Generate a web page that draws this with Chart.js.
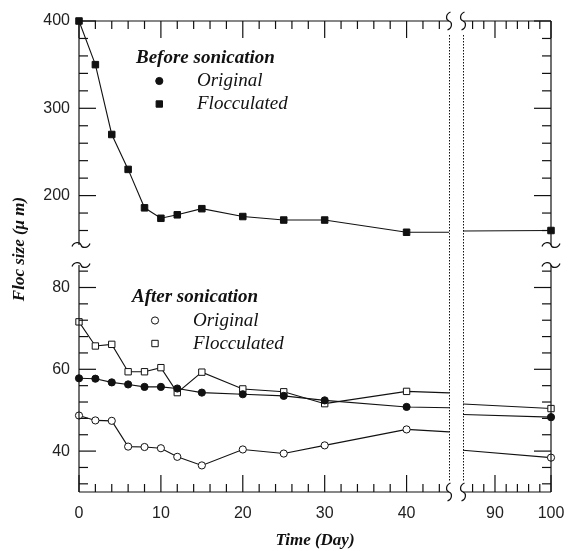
<!DOCTYPE html>
<html><head><meta charset="utf-8">
<script src="https://cdn.jsdelivr.net/npm/chart.js@4.4.1/dist/chart.umd.min.js"></script>
<style>html,body{margin:0;padding:0;background:#fff;}</style>
</head><body>
<canvas id="c" width="568" height="551" style="display:block;width:568px;height:551px"></canvas>
<script>
// ---- data ----
const days = [0, 2, 4, 6, 8, 10, 12, 15, 20, 25, 30, 40, 100];
const beforeOriginal    = [57.8, 57.7, 56.8, 56.3, 55.7, 55.7, 55.3, 54.3, 53.9, 53.5, 52.4, 50.8, 48.3];
const beforeFlocculated = [400, 350, 270, 230, 186, 174, 178, 185, 176, 172, 172, 158, 160];
const afterOriginal     = [48.7, 47.5, 47.4, 41.1, 41.0, 40.7, 38.6, 36.5, 40.4, 39.4, 41.4, 45.3, 38.4];
const afterFlocculated  = [71.6, 65.7, 66.1, 59.4, 59.4, 60.4, 54.3, 59.3, 55.2, 54.5, 51.6, 54.6, 50.4];

// tick labels
const xTicksLeft  = [0, 10, 20, 30, 40];
const xTicksRight = [90, 100];
const yTicksUpper = [200, 300, 400];
const yTicksLower = [40, 60, 80];
// minor tick steps
const xMinorStep = 2, yUpperMinorStep = 20, yLowerMinorStep = 4;

const INK = '#111';
const tickFont = {family: '"Liberation Sans", Arial, sans-serif', size: 16};

function pts(vals) { return days.map((d, i) => ({x: d, y: vals[i]})); }

const seriesDefs = [
  {vals: afterOriginal,     y: 'yLo', style: 'circle', fill: '#fff', r: 3.6},
  {vals: beforeOriginal,    y: 'yLo', style: 'circle', fill: INK,   r: 3.6},
  {vals: afterFlocculated,  y: 'yLo', style: 'rect',   fill: '#fff', r: 4.5},
  {vals: beforeFlocculated, y: 'yUp', style: 'rect',   fill: INK,   r: 4.6},
];
const datasets = [];
for (const s of seriesDefs) {
  for (const xa of ['xL', 'xR']) {
    datasets.push({
      data: pts(s.vals), xAxisID: xa, yAxisID: s.y, clip: false,
      borderColor: INK, borderWidth: 1.1, tension: 0,
      pointStyle: s.style, pointRadius: s.r, pointHoverRadius: s.r,
      pointBackgroundColor: s.fill, pointBorderColor: INK, pointBorderWidth: 1
    });
  }
}

function zeroPad(s) { s.paddingLeft = 0; s.paddingRight = 0; s.paddingTop = 0; s.paddingBottom = 0; }

function tickCfg(arr, pad) {
  return {
    afterBuildTicks: sc => { sc.ticks = arr.map(v => ({value: v})); },
    grid: {display: false, drawTicks: false, tickLength: 0},
    border: {display: false},
    ticks: {font: tickFont, color: '#222', padding: pad, autoSkip: false, maxRotation: 0}
  };
}

const clipPlugin = {
  id: 'panelClip',
  beforeDatasetDraw(chart, args) {
    const m = args.meta, xs = m.xScale, ys = m.yScale, ctx = chart.ctx;
    let l = xs.left, r = xs.right;
    if (xs.id === 'xL') l -= 8; else r += 8;
    ctx.save();
    ctx.beginPath();
    ctx.rect(l, ys.top - 8, r - l, ys.bottom - ys.top + 16);
    ctx.clip();
  },
  afterDatasetDraw(chart) { chart.ctx.restore(); }
};

const framePlugin = {
  id: 'frame',
  afterDraw(chart) {
    const ctx = chart.ctx;
    const {xL, xR, yUp, yLo} = chart.scales;
    const top = yUp.top, bottom = yLo.bottom, left = xL.left, right = xR.right;
    const line = (a, b, c, d) => { ctx.beginPath(); ctx.moveTo(a, b); ctx.lineTo(c, d); ctx.stroke(); };
    ctx.save();
    ctx.strokeStyle = INK; ctx.lineWidth = 1.2; ctx.lineCap = 'butt';
    // axis lines
    line(left, top, left, yUp.bottom); line(left, yLo.top, left, bottom);
    line(right, top, right, yUp.bottom); line(right, yLo.top, right, bottom);
    line(left, bottom, xL.right, bottom); line(xR.left, bottom, right, bottom);
    line(left, top, xL.right, top); line(xR.left, top, right, top);
    // x ticks
    const xTick = (sc, from, to, majors) => {
      for (let v = from; v <= to + 1e-9; v += xMinorStep) {
        const len = majors.includes(v) ? 17 : 8;
        const p = sc.getPixelForValue(v);
        line(p, bottom, p, bottom - len);
        line(p, top, p, top + len);
      }
    };
    xTick(xL, 0, 44, xTicksLeft);
    xTick(xR, 86, 100, xTicksRight);
    const yTick = (sc, from, to, step, majors) => {
      for (let v = from; v <= to + 1e-9; v += step) {
        const len = majors.includes(v) ? 17 : 9;
        const p = sc.getPixelForValue(v);
        line(left, p, left + len, p);
        line(right, p, right - len, p);
      }
    };
    yTick(yUp, 160, 400, yUpperMinorStep, yTicksUpper);
    yTick(yLo, 32, 84, yLowerMinorStep, yTicksLower);
    // break squiggles
    const vS = (cx, cy) => {
      ctx.beginPath(); ctx.moveTo(cx + 1.5, cy - 9);
      ctx.bezierCurveTo(cx - 3.5, cy - 7, cx - 3.5, cy - 1, cx, cy);
      ctx.bezierCurveTo(cx + 3.5, cy + 1, cx + 3.5, cy + 7, cx - 1.5, cy + 9);
      ctx.stroke();
    };
    const hS = (cx, cy) => {
      ctx.beginPath(); ctx.moveTo(cx - 9, cy + 1.5);
      ctx.bezierCurveTo(cx - 7, cy - 3.5, cx - 1, cy - 3.5, cx, cy);
      ctx.bezierCurveTo(cx + 1, cy + 3.5, cx + 7, cy + 3.5, cx + 9, cy - 1.5);
      ctx.stroke();
    };
    vS(xL.right, top); vS(xL.right, bottom); vS(xR.left, top); vS(xR.left, bottom);
    hS(left + 2, yUp.bottom); hS(left + 2, yLo.top); hS(right, yUp.bottom); hS(right, yLo.top);
    // dotted break lines
    ctx.lineWidth = 1; ctx.setLineDash([1.5, 1.5]);
    line(xL.right + 0.5, top + 14, xL.right + 0.5, bottom - 10);
    line(xR.left + 0.5, top + 14, xR.left + 0.5, bottom - 10);
    ctx.setLineDash([]);

    // axis titles
    ctx.fillStyle = INK;
    ctx.textBaseline = 'middle'; ctx.textAlign = 'center';
    ctx.font = 'bold italic 17px "Liberation Serif", "Times New Roman", serif';
    ctx.fillText('Time (Day)', (left + right) / 2, 541);
    ctx.save();
    ctx.translate(20, 249); ctx.rotate(-Math.PI / 2);
    ctx.fillText('Floc size (\u03bc m)', 0, 0);
    ctx.restore();

    // legends
    const mark = (x, y, style, fill) => {
      ctx.beginPath();
      if (style === 'circle') ctx.arc(x, y, 3.6, 0, Math.PI * 2);
      else ctx.rect(x - 3.2, y - 3.2, 6.4, 6.4);
      ctx.fillStyle = fill; ctx.fill();
      ctx.lineWidth = 1; ctx.strokeStyle = INK; ctx.stroke();
    };
    ctx.textAlign = 'left';
    ctx.fillStyle = INK;
    ctx.font = 'bold italic 19px "Liberation Serif", "Times New Roman", serif';
    ctx.fillText('Before sonication', 136, 58);
    ctx.fillText('After sonication', 132, 297.5);
    ctx.font = 'italic 19px "Liberation Serif", "Times New Roman", serif';
    ctx.fillStyle = INK;
    ctx.fillText('Original', 197, 81);
    ctx.fillText('Flocculated', 197, 104);
    ctx.fillText('Original', 193, 320.5);
    ctx.fillText('Flocculated', 193, 343.5);
    mark(159.3, 81, 'circle', INK);
    mark(159.3, 104, 'rect', INK);
    mark(155, 320.5, 'circle', '#fff');
    mark(155, 343.5, 'rect', '#fff');
    ctx.restore();
  }
};

new Chart(document.getElementById('c'), {
  type: 'line',
  data: {datasets},
  options: {
    responsive: false, animation: false, devicePixelRatio: 1,
    layout: {padding: {top: 21, right: 17, left: 0, bottom: 0}},
    plugins: {legend: {display: false}, tooltip: {enabled: false}},
    scales: {
      xL: Object.assign({type: 'linear', position: 'bottom', stack: 'x', stackWeight: 370, min: 0, max: 45.18,
        afterFit: s => { s.height = 59; zeroPad(s); }}, tickCfg(xTicksLeft, 12)),
      xGap: {type: 'linear', position: 'bottom', stack: 'x', stackWeight: 14, display: false},
      xR: Object.assign({type: 'linear', position: 'bottom', stack: 'x', stackWeight: 88, min: 84.29, max: 100,
        afterFit: s => { s.height = 59; zeroPad(s); }}, tickCfg(xTicksRight, 12)),
      yLo: Object.assign({type: 'linear', position: 'left', stack: 'y', stackWeight: 227, min: 30, max: 85.5,
        afterFit: s => { s.width = 79; zeroPad(s); }}, tickCfg(yTicksLower, 9)),
      yGap: {type: 'linear', position: 'left', stack: 'y', stackWeight: 20, display: false},
      yUp: Object.assign({type: 'linear', position: 'left', stack: 'y', stackWeight: 224, min: 143.4, max: 400,
        afterFit: s => { s.width = 79; zeroPad(s); }}, tickCfg(yTicksUpper, 9))
    }
  },
  plugins: [clipPlugin, framePlugin]
});
</script>
</body></html>
